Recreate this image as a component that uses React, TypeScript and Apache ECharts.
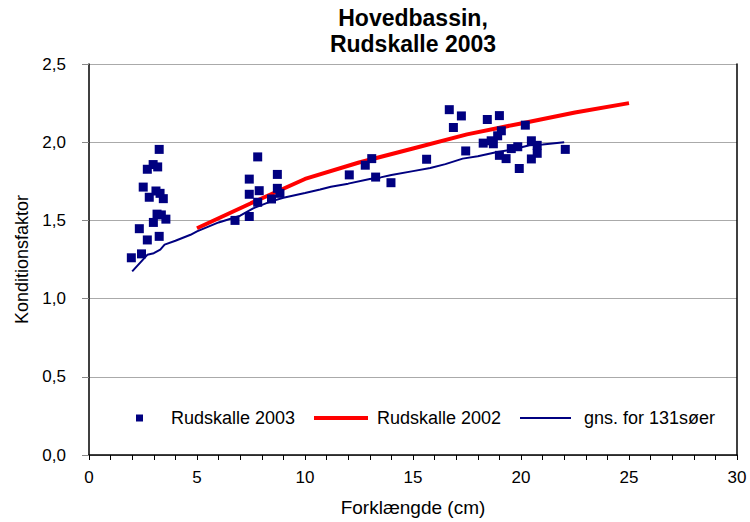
import React, { useEffect, useRef } from "react";
import * as echarts from "echarts";

const titleLines = ["Hovedbassin,", "Rudskalle 2003"];
const xAxisName = "Forklængde (cm)";
const yAxisName = "Konditionsfaktor";
const seriesNames = ["Rudskalle 2003", "Rudskalle 2002", "gns. for 131søer"];

// Rudskalle 2003 (scatter)
const scatterX = [
  3.25, 2.97, 3.18, 2.7, 2.51, 3.1, 3.29, 2.79, 3.44, 3.15, 3.35, 3.56, 2.98, 2.33, 3.25, 2.7, 2.43, 1.96,
  7.81, 7.42, 8.72, 7.42, 7.88, 8.72, 8.84, 7.81, 8.45, 6.76, 7.42,
  12.05, 12.79, 13.09, 13.27, 13.98, 15.63,
  16.68, 17.24, 16.87, 17.44, 18.44, 19.0, 19.09, 18.92, 18.25, 18.62, 18.72, 19.0, 19.31, 19.55, 19.85,
  19.92, 20.2, 20.48, 20.75, 20.75, 20.48, 22.05,
];
const scatterY = [
  1.954, 1.857, 1.842, 1.827, 1.713, 1.688, 1.673, 1.648, 1.639, 1.54, 1.535, 1.508, 1.487, 1.447, 1.398, 1.375, 1.286, 1.261,
  1.906, 1.764, 1.794, 1.667, 1.69, 1.705, 1.673, 1.616, 1.637, 1.5, 1.525,
  1.791, 1.853, 1.895, 1.777, 1.741, 1.891,
  2.208, 2.168, 2.094, 1.944, 2.145, 2.17, 2.073, 2.041, 1.994, 2.009, 1.99, 1.916, 1.895, 1.959, 1.971,
  1.832, 2.109, 2.009, 1.98, 1.929, 1.893, 1.954,
];

// Rudskalle 2002 (red line)
const red2002X = [5, 7.5, 10, 12.5, 15, 17.5, 20, 22.5, 25];
const red2002Y = [1.45, 1.61, 1.765, 1.87, 1.96, 2.05, 2.12, 2.19, 2.25];

// gns. for 131 søer (blue line)
const avgX = [2, 2.7, 3, 3.3, 3.5, 4, 4.7, 5, 6, 7, 7.6, 8.4, 9, 10, 10.7, 11.2, 12, 13, 13.5, 14, 15, 15.8, 16.5, 17.3, 18, 18.9, 19.5, 20.4, 21, 22];
const avgY = [1.174, 1.28, 1.29, 1.313, 1.345, 1.37, 1.408, 1.43, 1.487, 1.53, 1.577, 1.62, 1.645, 1.675, 1.698, 1.715, 1.735, 1.765, 1.775, 1.79, 1.815, 1.835, 1.86, 1.895, 1.91, 1.937, 1.95, 1.98, 1.985, 2.0];

const yTicks = { min: 0, max: 2.5, interval: 0.5 };
const xTicks = { min: 0, max: 30, interval: 5 };

const FONT = "'Liberation Sans', Arial, sans-serif";

export default function App() {
  const ref = useRef<HTMLDivElement>(null);
  useEffect(() => {
    if (!ref.current) return;
    const chart = echarts.init(ref.current, null, { renderer: "svg" });
    const pair = (xs: number[], ys: number[]) => xs.map((x, i) => [x, ys[i]]);
    const legendText = { fontFamily: FONT, fontSize: 18, color: "#000" };
    chart.setOption({
      animation: false,
      backgroundColor: "#ffffff",
      textStyle: { fontFamily: FONT },
      title: {
        text: titleLines.join("\n"),
        left: 408,
        top: 0,
        textAlign: "center",
        textStyle: { fontFamily: FONT, fontSize: 23, fontWeight: "bold", color: "#000", lineHeight: 26 },
      },
      grid: { left: 89, right: 13, top: 64, bottom: 65, containLabel: false },
      legend: [
        {
          data: [seriesNames[0]],
          left: 131,
          top: 404,
          itemWidth: 7,
          itemHeight: 7,
          icon: "rect",
          textStyle: { ...legendText, padding: [0, 0, 0, 23] },
        },
        {
          data: [seriesNames[1]],
          left: 309,
          top: 404,
          itemWidth: 54,
          itemHeight: 4,
          icon: "rect",
          textStyle: { ...legendText, padding: [0, 0, 0, 4] },
        },
        {
          data: [seriesNames[2]],
          left: 515,
          top: 404,
          itemWidth: 51,
          itemHeight: 2,
          icon: "rect",
          textStyle: { ...legendText, padding: [0, 0, 0, 8] },
        },
      ],
      xAxis: {
        type: "value",
        min: xTicks.min,
        max: xTicks.max,
        interval: xTicks.interval,
        name: xAxisName,
        nameLocation: "middle",
        nameGap: 43,
        nameTextStyle: { fontFamily: FONT, fontSize: 19, color: "#000" },
        axisLine: { show: true, onZero: false, lineStyle: { color: "#000", width: 1.5 } },
        axisTick: { show: true, length: 5, inside: false, lineStyle: { color: "#000" } },
        minorTick: { show: true, splitNumber: 5, length: 5, lineStyle: { color: "#000" } },
        axisLabel: { margin: 14, fontFamily: FONT, fontSize: 17, color: "#000" },
        splitLine: { show: false },
      },
      yAxis: [
        {
          type: "value",
          min: yTicks.min,
          max: yTicks.max,
          interval: yTicks.interval,
          name: yAxisName,
          nameLocation: "middle",
          nameGap: 58,
          nameTextStyle: { fontFamily: FONT, fontSize: 18, color: "#000" },
          axisLine: { show: true, lineStyle: { color: "#000", width: 1.5 } },
          axisTick: { show: true, length: 7, lineStyle: { color: "#888" } },
          axisLabel: {
            margin: 23,
            fontFamily: FONT,
            fontSize: 17,
            color: "#000",
            formatter: (v: number) => v.toFixed(1).replace(".", ","),
          },
          splitLine: { show: true, lineStyle: { color: "#aaaaaa", width: 1 } },
        },
        {
          type: "value",
          position: "right",
          min: yTicks.min,
          max: yTicks.max,
          interval: yTicks.interval,
          axisLine: { show: true, lineStyle: { color: "#000", width: 1.5 } },
          axisTick: { show: false },
          axisLabel: { show: false },
          splitLine: { show: false },
        },
      ],
      series: [
        {
          name: seriesNames[0],
          type: "scatter",
          data: pair(scatterX, scatterY),
          symbol: "rect",
          symbolSize: 9,
          itemStyle: { color: "#000080", opacity: 1 },
          z: 5,
        },
        {
          name: seriesNames[1],
          type: "line",
          data: pair(red2002X, red2002Y),
          symbol: "none",
          lineStyle: { color: "#ff0000", width: 4 },
          itemStyle: { color: "#ff0000" },
          z: 3,
        },
        {
          name: seriesNames[2],
          type: "line",
          data: pair(avgX, avgY),
          symbol: "none",
          lineStyle: { color: "#000080", width: 2 },
          itemStyle: { color: "#000080" },
          z: 4,
        },
      ],
    });
    return () => chart.dispose();
  }, []);
  return <div ref={ref} style={{ width: 750, height: 522, position: "absolute", left: 0, top: 0 }} />;
}
